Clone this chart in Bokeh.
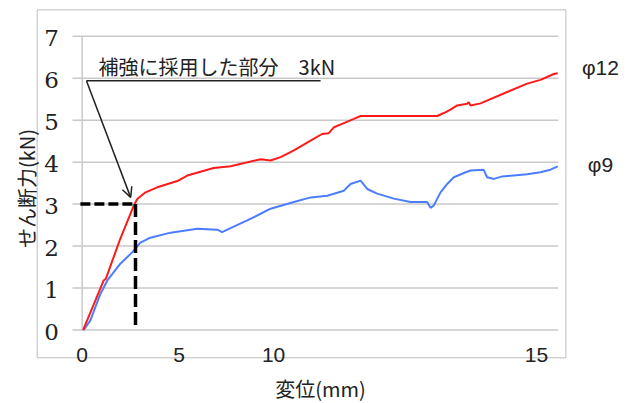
from bokeh.plotting import figure
from bokeh.models import Range1d, Label, LabelSet, ColumnDataSource, Arrow, OpenHead
from bokeh.core.properties import value
from bokeh.embed import file_html
from bokeh.resources import INLINE
import math

# ---- data ----
red_x = [0.03, 0.71, 0.78, 1.26, 1.70, 1.82, 2.09, 2.48, 3.14, 3.47, 4.34, 4.90, 5.89, 6.22,
         6.55, 6.99, 7.54, 7.92, 8.14, 8.31, 8.64, 8.97, 9.19, 11.72, 11.94, 12.16, 12.38,
         12.71, 12.76, 12.82, 13.15, 14.03, 14.69, 15.13, 15.57, 15.70]
red_y = [0.00, 1.18, 1.22, 2.18, 2.96, 3.12, 3.28, 3.40, 3.55, 3.68, 3.86, 3.90, 4.07, 4.04,
         4.12, 4.28, 4.51, 4.67, 4.69, 4.83, 4.93, 5.03, 5.10, 5.10, 5.17, 5.25, 5.35,
         5.39, 5.43, 5.35, 5.40, 5.67, 5.87, 5.96, 6.10, 6.12]
blue_x = [0.05, 0.27, 0.60, 0.83, 1.26, 1.65, 1.92, 2.25, 2.92, 3.80, 4.46, 4.62, 4.79, 5.45,
          5.89, 6.22, 6.99, 7.54, 8.09, 8.64, 8.86, 9.19, 9.41, 9.74, 10.29, 10.84, 11.39,
          11.50, 11.61, 11.83, 12.05, 12.27, 12.60, 12.82, 13.25, 13.37, 13.59, 13.87, 14.69,
          15.13, 15.46, 15.70]
blue_y = [0.00, 0.23, 0.86, 1.18, 1.58, 1.85, 2.08, 2.20, 2.32, 2.41, 2.39, 2.33, 2.39, 2.61,
          2.77, 2.89, 3.05, 3.16, 3.20, 3.32, 3.48, 3.56, 3.36, 3.25, 3.13, 3.05, 3.05,
          2.91, 2.97, 3.28, 3.48, 3.64, 3.74, 3.80, 3.82, 3.64, 3.60, 3.66, 3.71,
          3.76, 3.82, 3.90]

y_ticks = [0, 1, 2, 3, 4, 5, 6, 7]
y_tick_labels = ["0", "1", "2", "3", "4", "5", "6", "7"]
x_tick_pos = [0, 3.2, 6.32, 15]
x_tick_labels = ["0", "5", "10", "15"]

reinforce_kN = 3.0
reinforce_disp = 1.76

series_names = ["φ12", "φ9"]
series_label_y = [6.25, 3.94]

# frame covers the whole canvas; the chart box is drawn as a glyph
p = figure(width=631, height=403, output_backend="svg", toolbar_location=None,
           x_axis_type=None, y_axis_type=None,
           x_range=Range1d(-2.697, 18.135), y_range=Range1d(-1.751, 7.851),
           min_border_left=0, min_border_right=0, min_border_top=0, min_border_bottom=0)
p.outline_line_color = None
p.background_fill_color = "white"
p.border_fill_color = "white"

# outer chart box
p.quad(left=[-1.486], right=[15.97], top=[7.629], bottom=[-0.662],
       fill_color=None, line_color="#bdbdbd", line_width=1)

grid_col = "#c9c9c9"
# horizontal gridlines (incl. axis at 0)
p.segment(x0=-0.32, x1=15.72, y0=y_ticks, y1=y_ticks, line_color=grid_col, line_width=1.5)
# vertical axis line
p.segment(x0=[0], x1=[0], y0=[0], y1=[7], line_color=grid_col, line_width=1.5)

# data lines
p.line(blue_x, blue_y, line_color="#4d7dff", line_width=2)
p.line(red_x, red_y, line_color="#ff1a1a", line_width=2)

# dashed reference lines
p.segment(x0=[-0.06], x1=[reinforce_disp], y0=[reinforce_kN], y1=[reinforce_kN],
          line_color="black", line_width=3.5, line_dash="10 4")
p.segment(x0=[reinforce_disp], x1=[reinforce_disp], y0=[reinforce_kN], y1=[0],
          line_color="black", line_width=3.5, line_dash="13 5")

# y tick labels (serif)
ysrc = ColumnDataSource(dict(y=y_ticks, t=y_tick_labels))
p.add_layout(LabelSet(x=-1.01, y="y", text="t", source=ysrc, text_align="center",
                      text_baseline="middle", y_offset=-2,
                      text_font=value("DejaVu Serif"), text_font_size="23px",
                      text_color="#222222"))
# x tick labels
xsrc = ColumnDataSource(dict(x=x_tick_pos, t=x_tick_labels))
p.add_layout(LabelSet(x="x", y=-0.6, text="t", source=xsrc, text_align="center",
                      text_baseline="middle",
                      text_font=value("Liberation Sans"), text_font_size="21px",
                      text_color="#222222"))

# annotation
p.add_layout(Label(x=0.54, y=6.28, text="補強に採用した部分　3kN", text_align="left",
                   text_baseline="middle", text_font="Noto Sans CJK JP",
                   text_font_size="20px", text_color="#222222"))
p.segment(x0=[0.14], x1=[7.87], y0=[5.94], y1=[5.94], line_color="#222222", line_width=1.5)
p.add_layout(Arrow(end=OpenHead(size=10, line_width=1.5, line_color="#222222"),
                   x_start=0.14, y_start=5.94, x_end=1.60, y_end=3.16,
                   line_width=1.5, line_color="#222222"))

# series labels
for name, yy in zip(series_names, series_label_y):
    p.add_layout(Label(x=17.11, y=yy, text=name, text_align="center", text_baseline="middle",
                       text_font="Liberation Sans", text_font_size="21px",
                       text_color="#222222"))

# axis titles
p.add_layout(Label(x=-1.84, y=3.37, text="せん断力(kN)", angle=math.pi / 2,
                   text_align="center", text_baseline="middle",
                   text_font="Noto Sans CJK JP", text_font_size="20px", text_color="#222222"))
p.add_layout(Label(x=7.87, y=-1.40, text="変位(mm)", text_align="center",
                   text_baseline="middle", text_font="Noto Sans CJK JP",
                   text_font_size="20px", text_color="#222222"))

open("out.html", "w").write(file_html(p, INLINE))
